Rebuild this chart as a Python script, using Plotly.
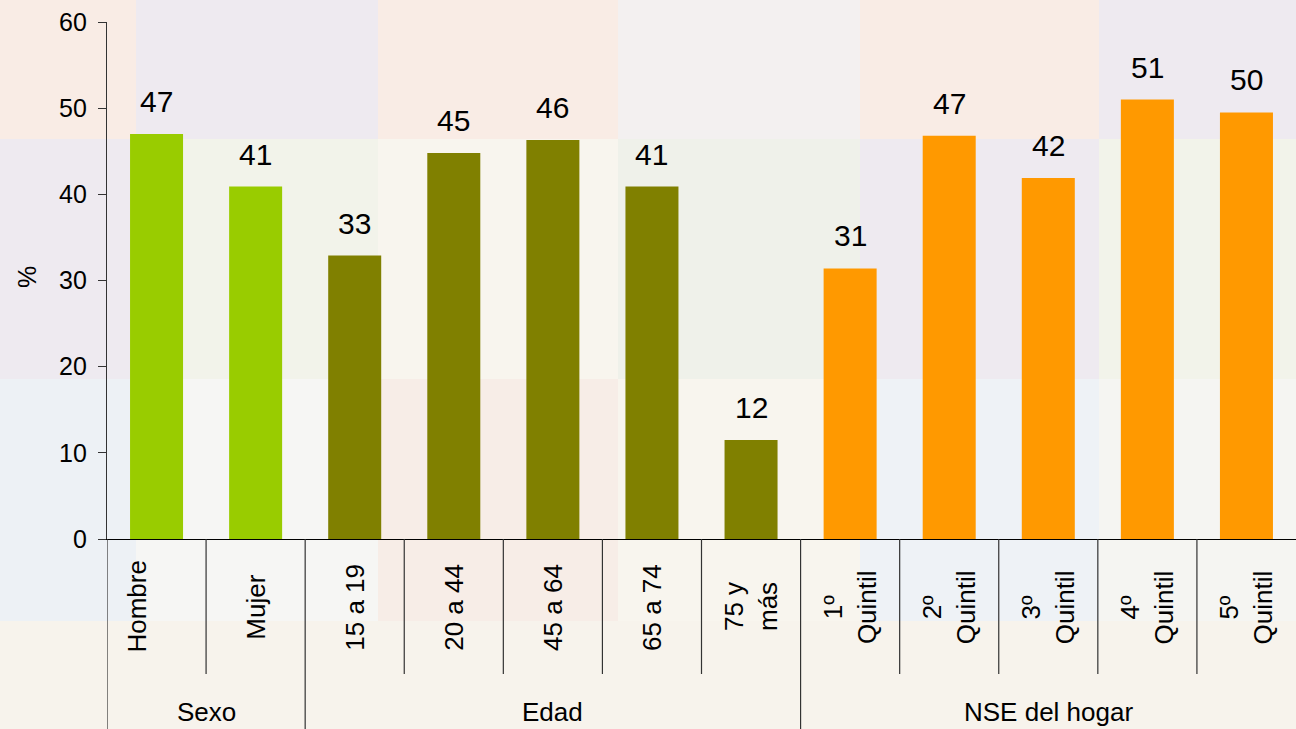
import plotly.graph_objects as go

# ---- data ----
categories = ["Hombre", "Mujer", "15 a 19", "20 a 44", "45 a 64", "65 a 74",
              "75 y<br>más", "1º<br>Quintil", "2º<br>Quintil", "3º<br>Quintil",
              "4º<br>Quintil", "5º<br>Quintil"]
values = [47.0, 40.9, 32.9, 44.8, 46.3, 40.9, 11.5, 31.4, 46.8, 41.9, 51.0, 49.5]
value_labels = ["47", "41", "33", "45", "46", "41", "12", "31", "47", "42", "51", "50"]
groups = ["Sexo", "Edad", "NSE del hogar"]
group_sizes = [2, 5, 5]
group_colors = ["#99CC00", "#808000", "#FF9900"]
y_ticks = [0, 10, 20, 30, 40, 50, 60]

FONT = "Liberation Sans, Arial, sans-serif"

# layout geometry (pixels)
W, H = 1296, 729
ML, MR, MT, MB = 107, 0, 22, 190
PW, PH = W - ML - MR, H - MT - MB


def px_x(p):
    return (p - ML) / PW


def px_y(p):
    return (H - MB - p) / PH


bar_colors = []
for c, n in zip(group_colors, group_sizes):
    bar_colors += [c] * n

xs = list(range(len(categories)))
fig = go.Figure()
fig.add_trace(go.Bar(
    x=xs, y=values,
    marker=dict(color=bar_colors, line=dict(width=0)),
    width=0.535, hoverinfo="skip",
))

shapes = []
# decorative background tiles (faint collage)
col_edges = [0, 136, 378, 618, 860, 1099, 1296]
row_edges = [0, 139, 379, 621, 729]
tile_colors = [
    ["#F9ECE5", "#EEEAF0", "#F9ECE5", "#F3F0F0", "#F9ECE5", "#EEEAF0"],
    ["#EEEAF0", "#F2F3EA", "#F8F5EE", "#EFF1EA", "#EEEAF0", "#F2F3EA"],
    ["#EDF1F5", "#F6F6F4", "#F7EDE7", "#F8F5EE", "#EEF2F6", "#F5F5F2"],
    ["#F7F3EC", "#F7F3EC", "#F7F3EC", "#F7F3EC", "#F7F3EC", "#F7F3EC"],
]
for r in range(4):
    for c in range(6):
        shapes.append(dict(type="rect", xref="paper", yref="paper", layer="below",
                           x0=px_x(col_edges[c]), x1=px_x(col_edges[c + 1]),
                           y0=px_y(row_edges[r + 1]), y1=px_y(row_edges[r]),
                           line=dict(width=0), fillcolor=tile_colors[r][c]))

# category dividers
y_bottom = px_y(H)
y_short = px_y(674)
group_bounds = [0]
for n in group_sizes:
    group_bounds.append(group_bounds[-1] + n)
for i in range(1, len(categories)):
    y1 = y_bottom if i in group_bounds else y_short
    shapes.append(dict(type="line", xref="x", yref="paper", x0=i - 0.5, x1=i - 0.5,
                       y0=0, y1=y1, line=dict(color="#333333", width=1.2)))
# y axis extension below plot
shapes.append(dict(type="line", xref="x", yref="paper", x0=-0.5, x1=-0.5,
                   y0=0, y1=y_bottom, line=dict(color="#333333", width=1.2)))

annotations = []
# value labels above bars
for x, v, t in zip(xs, values, value_labels):
    annotations.append(dict(x=x, xref="x", y=v, yref="y", text=t, showarrow=False,
                            xanchor="center", yanchor="bottom", yshift=14,
                            font=dict(size=30, color="#000000", family=FONT)))
# category labels
for i, cat in enumerate(categories):
    annotations.append(dict(x=i, xref="x", y=px_y(607), yref="paper", text=cat,
                            textangle=-90, showarrow=False, xanchor="center",
                            yanchor="middle", xshift=(-20 if i == 0 else 0),
                            font=dict(size=26, color="#000000", family=FONT)))
# group labels
for g, (a, b) in zip(groups, zip(group_bounds[:-1], group_bounds[1:])):
    annotations.append(dict(x=(a + b - 1) / 2, xref="x", y=px_y(712), yref="paper",
                            text=g, showarrow=False, xanchor="center", yanchor="middle",
                            font=dict(size=26, color="#000000", family=FONT)))
# y axis title
annotations.append(dict(x=px_x(27), xref="paper", y=px_y(277), yref="paper", text="%",
                        textangle=-90, showarrow=False, xanchor="center", yanchor="middle",
                        font=dict(size=25, color="#000000", family=FONT)))

fig.update_layout(
    width=W, height=H,
    margin=dict(l=ML, r=MR, t=MT, b=MB, pad=0),
    paper_bgcolor="#F6F2EE", plot_bgcolor="rgba(0,0,0,0)",
    showlegend=False,
    shapes=shapes, annotations=annotations,
    xaxis=dict(range=[-0.5, len(categories) - 0.5], showticklabels=False,
               showgrid=False, zeroline=False, showline=True,
               linecolor="#000000", linewidth=1.2, ticks=""),
    yaxis=dict(range=[0, 60], tickvals=y_ticks, showgrid=False, zeroline=False,
               showline=True, linecolor="#333333", linewidth=1.2,
               ticks="outside", ticklen=8, tickcolor="#333333",
               ticklabelstandoff=6,
               tickfont=dict(size=25, color="#000000", family=FONT)),
)

fig.write_html("out.html", config={"displayModeBar": False},
               post_script="document.body.style.margin='0px';"
                           "document.body.style.overflow='hidden';")
